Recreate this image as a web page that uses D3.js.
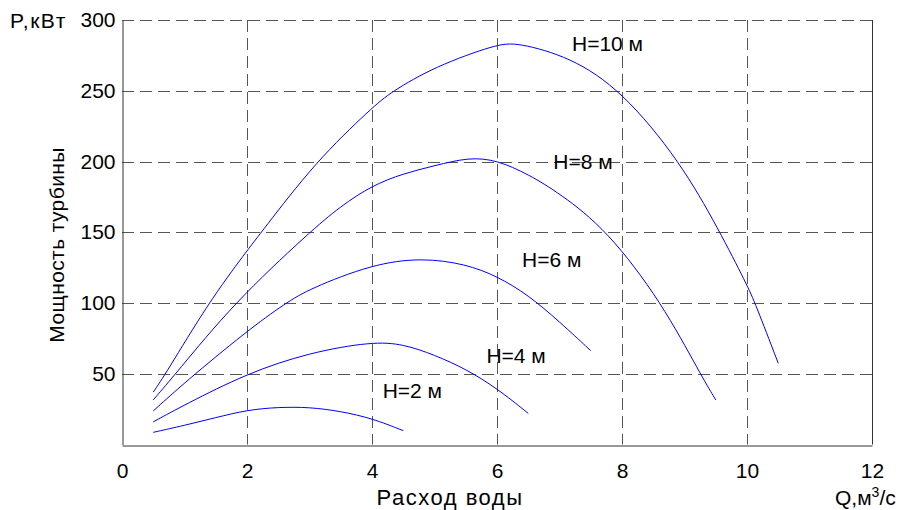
<!DOCTYPE html>
<html>
<head>
<meta charset="utf-8">
<script src="https://cdn.jsdelivr.net/npm/d3@7"></script>
<style>
  body { margin: 0; background: #fff; }
  text { font-family: Arial, "Liberation Sans", sans-serif; fill: #000; }
</style>
</head>
<body>
<svg id="canvas" width="902" height="510"></svg>
<script>
// values: flow Q (m3/s) -> turbine power P (kW)
var q2 = [0.5, 1, 1.5, 2, 2.5, 3, 3.5, 4, 4.5];
var p2 = [8.6, 13.5, 19, 24.4, 26.4, 26.4, 23.5, 18.5, 9.8];

var q4 = [0.5, 1, 2, 3, 4, 4.5, 5, 5.5, 6, 6.5];
var p4 = [16, 28, 50.3, 65, 72.7, 71, 63.3, 53.4, 39.7, 22];

var q6 = [0.5, 1, 2, 2.62, 3, 4, 4.8, 5.5, 6, 6.5, 7, 7.5];
var p6 = [23.7, 43.7, 80.3, 100, 110, 127.4, 132, 127.5, 119, 105.7, 86.8, 66.3];

var q8 = [0.5, 0.86, 1.79, 3, 3.5, 4, 4.5, 5, 5.55, 6, 6.5, 7, 7.76, 8.64, 9.25, 9.5];
var p8 = [31.5, 50, 100, 150, 168.5, 183, 191.5, 197, 203, 201, 191, 177.6, 151.7, 100, 50, 31.5];

var q10 = [0.5, 0.7, 1.38, 2, 2.23, 3.1, 4, 4.3, 5, 6, 6.32, 7.17, 8, 8.93, 9.55, 10, 10.13, 10.5];
var p10 = [37, 50, 100, 137, 150, 200, 238, 249, 267, 283, 284, 274, 250, 200, 151.7, 112.8, 100, 57.4];

var seriesNames = ['H=2 м', 'H=4 м', 'H=6 м', 'H=8 м', 'H=10 м'];
// where each label sits, in data units
var labelQ = [4.17, 5.83, 6.4, 6.9, 7.2];
var labelP = [32.9, 57.6, 125.5, 194.8, 278.3];

var xTicks = [0, 2, 4, 6, 8, 10, 12];
var yTicks = [50, 100, 150, 200, 250, 300];

var plotLeft = 122, plotRight = 872, plotTop = 20, plotBottom = 444.5;
var fontPx = 21;

var x = d3.scaleLinear().domain([0, 12]).range([plotLeft, plotRight]);
var y = d3.scaleLinear().domain([0, 300]).range([plotBottom, plotTop]);

var canvas = d3.select('#canvas');

var series = [[q2, p2], [q4, p4], [q6, p6], [q8, p8], [q10, p10]].map(function(s) {
    return s[0].map(function(q, i) { return { q: q, p: s[1][i] }; });
});

// grid
var grid = canvas.append('g')
    .attr('stroke', '#555')
    .attr('stroke-width', 1)
    .attr('stroke-dasharray', '12,6');

grid.selectAll('line.v')
    .data(xTicks.filter(function(d) { return d > 0 && d < 12; }))
    .enter()
    .append('line')
    .attr('class', 'v')
    .attr('x1', function(d) { return Math.round(x(d)) + 0.5; })
    .attr('x2', function(d) { return Math.round(x(d)) + 0.5; })
    .attr('y1', y(300))
    .attr('y2', y(0));

grid.selectAll('line.h')
    .data(yTicks)
    .enter()
    .append('line')
    .attr('class', 'h')
    .attr('y1', function(d) { return Math.round(y(d)) + 0.5; })
    .attr('y2', function(d) { return Math.round(y(d)) + 0.5; })
    .attr('x1', x(0))
    .attr('x2', x(12));

// axes box (left, bottom, right solid)
var xAxis = d3.axisBottom(x).tickValues(xTicks).tickSize(0).tickPadding(18);
var yAxis = d3.axisLeft(y).tickValues(yTicks).tickSize(0).tickPadding(7);

function styleAxis(g) {
    g.select('.domain').attr('stroke', '#333');
    g.selectAll('text')
        .attr('font-size', fontPx)
        .attr('font-family', 'Arial, "Liberation Sans", sans-serif');
}

canvas.append('g')
    .attr('transform', 'translate(0,' + (Math.round(y(0)) + 0.5) + ')')
    .call(xAxis)
    .call(styleAxis);

canvas.append('g')
    .attr('transform', 'translate(' + (Math.round(x(0)) + 0.5) + ',0)')
    .call(yAxis)
    .call(styleAxis);

canvas.append('line')
    .attr('x1', Math.round(x(12)) + 0.5)
    .attr('x2', Math.round(x(12)) + 0.5)
    .attr('y1', y(300))
    .attr('y2', y(0))
    .attr('stroke', '#333');

// curves (basis spline smooths out reading noise)
var line = d3.line()
    .x(function(d) { return x(d.q); })
    .y(function(d) { return y(d.p); })
    .curve(d3.curveBasis);

canvas.selectAll('path.curve')
    .data(series)
    .enter()
    .append('path')
    .attr('class', 'curve')
    .attr('fill', 'none')
    .attr('stroke', '#0000ff')
    .attr('stroke-width', 1)
    .attr('d', line);

// curve labels
canvas.selectAll('text.lbl')
    .data(seriesNames)
    .enter()
    .append('text')
    .attr('class', 'lbl')
    .attr('x', function(d, i) { return x(labelQ[i]); })
    .attr('y', function(d, i) { return y(labelP[i]); })
    .attr('font-size', fontPx)
    .text(function(d) { return d; });

// axis titles
canvas.append('text')
    .attr('x', 10)
    .attr('y', 28)
    .attr('font-size', fontPx)
    .attr('letter-spacing', 1.5)
    .text('P,кВт');

canvas.append('text')
    .attr('transform', 'translate(64,245) rotate(-90)')
    .attr('text-anchor', 'middle')
    .attr('font-size', fontPx)
    .attr('letter-spacing', 0.4)
    .text('Мощность турбины');

canvas.append('text')
    .attr('x', 450)
    .attr('y', 505)
    .attr('text-anchor', 'middle')
    .attr('font-size', 22)
    .attr('letter-spacing', 1.5)
    .text('Расход воды');

var qt = canvas.append('text')
    .attr('x', 835)
    .attr('y', 505)
    .attr('font-size', fontPx);
qt.append('tspan').text('Q,м');
qt.append('tspan').attr('font-size', 14).attr('dy', -8).text('3');
qt.append('tspan').attr('dy', 8).text('/с');
</script>
</body>
</html>
